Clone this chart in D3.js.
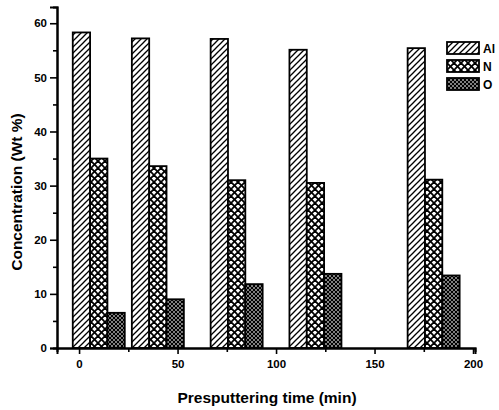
<!DOCTYPE html>
<html><head><meta charset="utf-8">
<script src="https://cdn.jsdelivr.net/npm/d3@7"></script>
<style>body{margin:0;background:#fff}svg{display:block}text{font-family:Arial,"Liberation Sans",sans-serif}</style>
</head><body><svg id="c" width="499" height="410"></svg>
<script>
const times = [10, 40, 80, 120, 180];
const series = ["Al", "N", "O"];
const alValues = [58.3, 57.2, 57.1, 55.1, 55.4];
const nValues = [35.0, 33.6, 31.0, 30.5, 31.1];
const oValues = [6.5, 9.0, 11.8, 13.7, 13.4];
const xTicks = [0, 50, 100, 150, 200];
const yTicks = [0, 10, 20, 30, 40, 50, 60];
const values = [alValues, nValues, oValues];

const svg = d3.select("#c");
const defs = svg.append("defs");
function hatch(id, size, lines, sw){
  const p = defs.append("pattern").attr("id", id).attr("patternUnits","userSpaceOnUse")
    .attr("width", size).attr("height", size);
  p.append("rect").attr("width", size).attr("height", size).attr("fill","#fff");
  lines.forEach(d => p.append("path").attr("d", d).attr("stroke","#000").attr("stroke-width", sw).attr("fill","none"));
}
hatch("pAl", 6, ["M-1,7 L7,-1", "M-1,1 L1,-1", "M5,7 L7,5"], 1.3);
hatch("pN", 7, ["M0,0 L7,7", "M7,0 L0,7"], 1.8);
hatch("pO", 4, ["M0,0 L4,4", "M4,0 L0,4"], 1.4);
const fills = ["url(#pAl)", "url(#pN)", "url(#pO)"];

const x = d3.scaleLinear().domain([-11.2, 201]).range([57, 475]);
const y = d3.scaleLinear().domain([0, 63]).range([348, 7]);
const bw = x(8.8) - x(0);

const g = svg.append("g");
series.forEach((s, si) => {
  g.selectAll(".b" + si).data(times).enter().append("rect")
    .attr("x", (t) => x(t) + (si - 1.5) * bw)
    .attr("y", (t, i) => y(values[si][i]))
    .attr("width", bw)
    .attr("height", (t, i) => y(0) - y(values[si][i]))
    .attr("fill", fills[si]).attr("stroke", "#000").attr("stroke-width", 1.8);
});

const xAxis = d3.axisBottom(x).tickValues(xTicks).tickSize(6).tickPadding(6).tickFormat(d3.format("d"));
const xMinor = d3.axisBottom(x).tickValues([25, 75, 125, 175]).tickSize(4).tickFormat("");
const yAxis = d3.axisLeft(y).tickValues(yTicks).tickSize(7).tickPadding(3).tickFormat(d3.format("d"));
const yMinor = d3.axisLeft(y).tickValues([5, 15, 25, 35, 45, 55]).tickSize(4).tickFormat("");

function style(sel){
  sel.select(".domain").attr("stroke-width", 2).attr("stroke", "#000");
  sel.selectAll(".tick line").attr("stroke-width", 1.6).attr("stroke", "#000");
  sel.selectAll("text").attr("font-size", 11.5).attr("font-weight", "bold").attr("fill", "#000");
}
svg.append("g").attr("transform", `translate(0,${y(0)})`).call(xMinor).call(style);
svg.append("g").attr("transform", `translate(0,${y(0)})`).call(xAxis).call(style);
svg.append("g").attr("transform", `translate(${x(-11.2)},0)`).call(yMinor).call(style);
svg.append("g").attr("transform", `translate(${x(-11.2)},0)`).call(yAxis).call(style);

svg.append("text").attr("x", 267).attr("y", 403).attr("text-anchor", "middle")
  .attr("font-size", 15.5).attr("font-weight", "bold").text("Presputtering time (min)");
svg.append("text").attr("transform", "translate(22,192) rotate(-90)").attr("text-anchor", "middle")
  .attr("font-size", 15.5).attr("font-weight", "bold").text("Concentration (Wt %)");

const lg = svg.append("g").attr("transform", "translate(447,42)");
series.forEach((s, i) => {
  lg.append("rect").attr("x", 0).attr("y", i * 18).attr("width", 32).attr("height", 12)
    .attr("fill", fills[i]).attr("stroke", "#000").attr("stroke-width", 1.8);
  lg.append("text").attr("x", 36).attr("y", i * 18 + 10.5).attr("font-size", 12)
    .attr("font-weight", "bold").text(s);
});
</script></body></html>
